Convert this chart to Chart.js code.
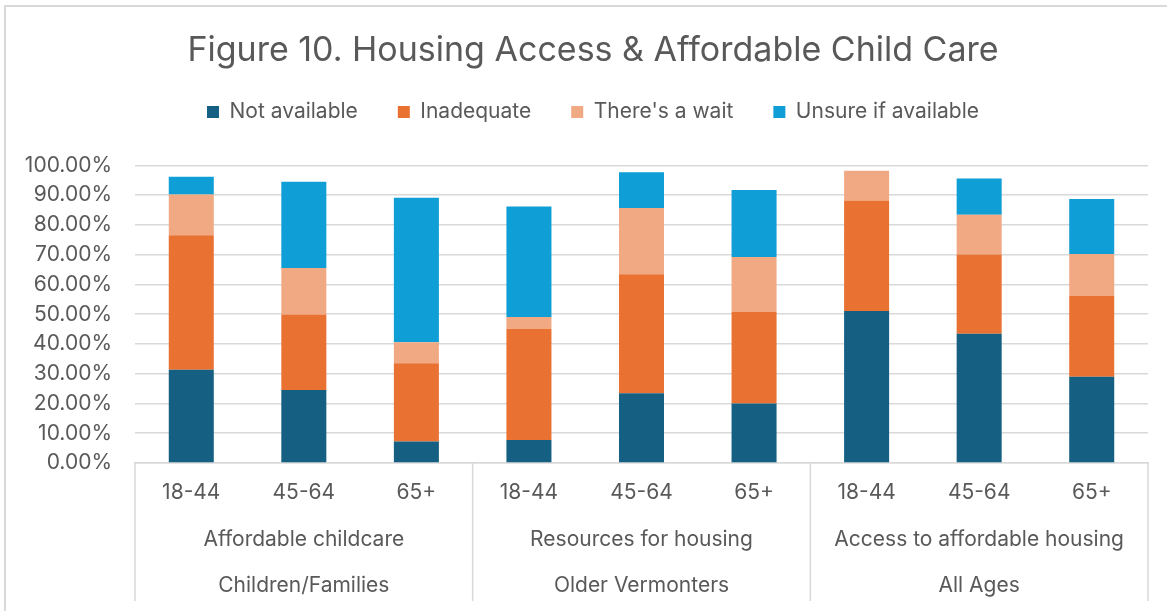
<!DOCTYPE html>
<html>
<head>
<meta charset="utf-8">
<title>Housing Access &amp; Affordable Child Care</title>
<script src="https://cdn.jsdelivr.net/npm/chart.js@4.4.1/dist/chart.umd.min.js"></script>
<style>
  html, body { margin: 0; padding: 0; background: #fff; }
  #chart { display: block; }
</style>
</head>
<body>
<canvas id="chart" width="1167" height="611"></canvas>
<script>
// age bands repeat inside every topic group
const ages = ['18-44', '45-64', '65+'];
const topics = ['Affordable childcare', 'Resources for housing', 'Access to affordable housing'];
const groups = ['Children/Families', 'Older Vermonters', 'All Ages'];

// percent of respondents, one value per age band per topic
const notAvailable = [31.3, 24.5, 7.2, 7.7, 23.4, 20.0, 51.1, 43.4, 29.0];
const inadequate   = [45.2, 25.4, 26.3, 37.4, 40.0, 30.7, 37.1, 26.7, 27.2];
const thereIsAWait = [13.7, 15.6, 7.1, 4.0, 22.3, 18.5, 10.0, 13.3, 14.0];
const unsure       = [6.0, 29.0, 48.5, 37.1, 12.0, 22.5, 0.0, 12.2, 18.5];

const yTicks = [0, 10, 20, 30, 40, 50, 60, 70, 80, 90, 100];

const labels = [];
topics.forEach(() => ages.forEach(a => labels.push(a)));

const FONT = 'Inter, "Noto Sans", sans-serif';
const TEXT = '#595959';
const GRID = '#d9d9d9';
const SMALL = 21;

// frame round the chart plus the two lower rows of the category axis
const groupAxis = {
    id: 'groupAxis',
    beforeDraw(chart) {
        const ctx = chart.ctx;
        ctx.save();
        ctx.fillStyle = '#fff';
        ctx.fillRect(0, 0, chart.width, chart.height);
        ctx.fillStyle = GRID;
        ctx.fillRect(4, 5, 2, chart.height - 5);
        ctx.fillRect(4, 5, chart.width - 4, 2);
        ctx.restore();
    },
    afterDraw(chart) {
        const ctx = chart.ctx;
        const x = chart.scales.x;
        const area = chart.chartArea;
        const per = ages.length;

        const edges = [];
        for (let g = 0; g <= topics.length; g++) {
            if (g === 0) edges.push(x.left);
            else if (g === topics.length) edges.push(x.right);
            else edges.push((x.getPixelForTick(g * per - 1) + x.getPixelForTick(g * per)) / 2);
        }

        ctx.save();
        ctx.strokeStyle = GRID;
        ctx.lineWidth = 1.5;
        edges.forEach(px => {
            ctx.beginPath();
            ctx.moveTo(px, area.bottom);
            ctx.lineTo(px, area.bottom + 138);
            ctx.stroke();
        });

        ctx.fillStyle = TEXT;
        ctx.font = SMALL + 'px ' + FONT;
        ctx.textAlign = 'center';
        ctx.textBaseline = 'middle';
        topics.forEach((t, i) => {
            const cx = (edges[i] + edges[i + 1]) / 2;
            ctx.fillText(t, cx, area.bottom + 77);
            ctx.fillText(groups[i], cx, area.bottom + 123);
        });
        ctx.restore();
    }
};

new Chart(document.getElementById('chart'), {
    type: 'bar',
    data: {
        labels: labels,
        datasets: [
            { label: 'Not available', data: notAvailable, backgroundColor: '#156082' },
            { label: 'Inadequate', data: inadequate, backgroundColor: '#e97132' },
            { label: "There's a wait", data: thereIsAWait, backgroundColor: '#f1a983' },
            { label: 'Unsure if available', data: unsure, backgroundColor: '#0f9ed5' }
        ]
    },
    options: {
        responsive: false,
        animation: false,
        layout: { padding: { left: 19, right: 0, top: 0, bottom: 0 } },
        datasets: {
            bar: { categoryPercentage: 1, barPercentage: 0.4, borderWidth: 0 }
        },
        plugins: {
            title: {
                display: true,
                text: 'Figure 10. Housing Access & Affordable Child Care',
                color: TEXT,
                font: { family: FONT, size: 34, weight: 'normal', lineHeight: 0.6 },
                padding: { top: 41, bottom: 0 }
            },
            legend: {
                display: true,
                position: 'top',
                labels: {
                    color: TEXT,
                    font: { family: FONT, size: SMALL },
                    boxWidth: 12,
                    boxHeight: 12,
                    padding: 40
                }
            },
            // empty line that keeps the plot clear of the legend
            subtitle: {
                display: true,
                text: '',
                weight: 500,
                font: { size: 1, lineHeight: 1 },
                padding: { top: 0, bottom: 32 }
            },
            tooltip: { enabled: false }
        },
        scales: {
            x: {
                stacked: true,
                grid: { display: false, drawTicks: false },
                border: { display: true, color: GRID, width: 1.5 },
                ticks: {
                    color: TEXT,
                    font: { family: FONT, size: SMALL },
                    padding: 17,
                    maxRotation: 0,
                    autoSkip: false
                },
                afterFit(scale) { scale.height = 148; }
            },
            y: {
                stacked: true,
                min: 0,
                max: 100,
                grid: { color: GRID, lineWidth: 1.5, drawTicks: false },
                border: { display: false },
                ticks: {
                    color: TEXT,
                    font: { family: FONT, size: SMALL },
                    padding: 23,
                    stepSize: 10,
                    callback: v => yTicks.includes(v) ? v.toFixed(2) + '%' : ''
                },
                afterFit(scale) { scale.width = 116; }
            },
            // blank margin on the right of the plot
            yRight: {
                type: 'linear',
                position: 'right',
                grid: { display: false, drawTicks: false },
                border: { display: false },
                ticks: { display: false },
                afterFit(scale) { scale.width = 19; }
            }
        }
    },
    plugins: [groupAxis]
});
</script>
</body>
</html>
